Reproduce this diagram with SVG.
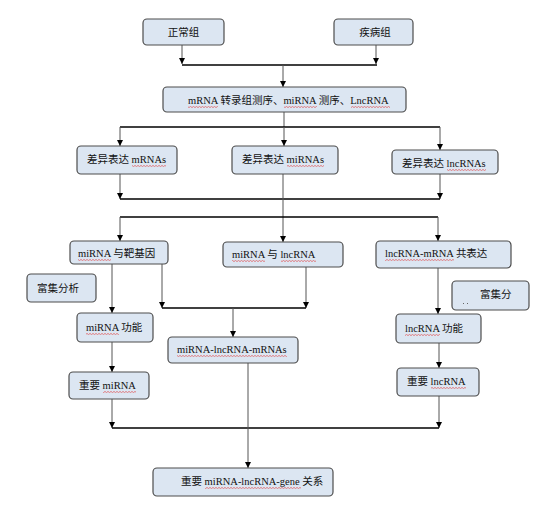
<svg xmlns="http://www.w3.org/2000/svg" width="554" height="506" viewBox="0 0 554 506">
<style>
.box{fill:#dce6f2;stroke:#4d4d4d;stroke-width:1.2}
.t{font-family:"Liberation Serif","Noto Sans CJK SC",serif;font-size:10.5px;fill:#111}
.h{fill:none;stroke:#000;stroke-width:1.5}
.v{fill:none;stroke:#555;stroke-width:1}
.va{fill:none;stroke:#555;stroke-width:1;marker-end:url(#ah)}
.w{fill:url(#wavy)}
</style>
<defs>
<marker id="ah" markerUnits="userSpaceOnUse" markerWidth="6" markerHeight="6" refX="3" refY="6" orient="0" viewBox="0 0 6 6">
<path d="M0,0 L6,0 L3,6 z" fill="#000"/>
</marker>
<pattern id="wavy" patternUnits="userSpaceOnUse" width="3" height="2">
<path d="M0,1.6 L1.5,0.4 L3,1.6" fill="none" stroke="#e03030" stroke-width="0.6"/>
</pattern>
</defs>
<rect width="554" height="506" fill="#fff"/>
<g id="connectors">
<path class="va" d="M182,45 V64"/>
<path class="va" d="M376,45 V64"/>
<path class="h" d="M182,65 H377"/>
<path class="va" d="M283,65 V87"/>
<path class="v" d="M284,112 V127"/>
<path class="h" d="M120,127 H440"/>
<path class="va" d="M120,127 V146"/>
<path class="va" d="M284,127 V146"/>
<path class="va" d="M440,127 V150"/>
<path class="va" d="M120,174 V199"/>
<path class="va" d="M440,174 V199"/>
<path class="h" d="M120,199 H440"/>
<path class="va" d="M283,174 V242"/>
<path class="h" d="M120,217 H438"/>
<path class="va" d="M120,217 V241"/>
<path class="va" d="M438,217 V241"/>
<path class="va" d="M112,264 V313"/>
<path class="va" d="M162,264 V308"/>
<path class="va" d="M306,267 V308"/>
<path class="h" d="M162,308 H306"/>
<path class="va" d="M233,308 V337"/>
<path class="va" d="M112,342 V372"/>
<path class="va" d="M438,268 V314"/>
<path class="va" d="M439,343 V368"/>
<path class="va" d="M112,399 V428"/>
<path class="va" d="M439,396 V428"/>
<path class="h" d="M112,428 H439"/>
<path class="va" d="M248,363 V468"/>
</g>
<g id="normal"><rect class="box" x="143" y="19" width="81" height="26" rx="4"/><text class="t" x="183.5" y="36" text-anchor="middle">正常组</text></g>
<g id="disease"><rect class="box" x="334" y="19" width="79" height="26" rx="4"/><text class="t" x="375" y="36" text-anchor="middle">疾病组</text></g>
<g id="seq"><rect class="box" x="163" y="87" width="243" height="25" rx="4"/><text class="t" x="188" y="104">mRNA 转录组测序、miRNA 测序、LncRNA</text>
<rect class="w" x="188" y="106" width="30" height="2"/><rect class="w" x="284" y="106" width="33" height="2"/><rect class="w" x="351" y="106" width="39" height="2"/></g>
<g id="de-mrna"><rect class="box" x="77" y="146" width="100" height="28" rx="4"/><text class="t" x="87" y="163">差异表达 mRNAs</text><rect class="w" x="132" y="165" width="34" height="2"/></g>
<g id="de-mirna"><rect class="box" x="232" y="146" width="106" height="28" rx="4"/><text class="t" x="242" y="163">差异表达 miRNAs</text><rect class="w" x="287" y="165" width="37" height="2"/></g>
<g id="de-lncrna"><rect class="box" x="392" y="150" width="106" height="24" rx="4"/><text class="t" x="402" y="167">差异表达 lncRNAs</text><rect class="w" x="447" y="169" width="39" height="2"/></g>
<g id="mirna-target"><rect class="box" x="70" y="241" width="98" height="23" rx="4"/><text class="t" x="78" y="257">miRNA 与靶基因</text><rect class="w" x="78" y="259" width="33" height="2"/></g>
<g id="enrich-left"><rect class="box" x="27" y="274" width="69" height="28" rx="4"/><text class="t" x="37" y="292">富集分析</text></g>
<g id="mirna-lncrna"><rect class="box" x="223" y="242" width="120" height="25" rx="4"/><text class="t" x="232" y="258">miRNA 与 lncRNA</text><rect class="w" x="232" y="260" width="33" height="2"/><rect class="w" x="281" y="260" width="35" height="2"/></g>
<g id="coexp"><rect class="box" x="376" y="241" width="135" height="27" rx="4"/><text class="t" x="385" y="257">lncRNA-mRNA 共表达</text><rect class="w" x="385" y="259" width="69" height="2"/></g>
<g id="enrich-right"><rect class="box" x="452" y="281" width="77" height="29" rx="4"/><text class="t" x="480" y="298">富集分</text><rect x="463" y="303" width="1" height="1" fill="#666"/><rect x="467" y="303" width="1" height="1" fill="#666"/></g>
<g id="mirna-func"><rect class="box" x="77" y="313" width="76" height="29" rx="4"/><text class="t" x="86" y="331">miRNA 功能</text><rect class="w" x="86" y="333" width="33" height="2"/></g>
<g id="network"><rect class="box" x="168" y="337" width="130" height="26" rx="4"/><text class="t" x="177" y="353">miRNA-lncRNA-mRNAs</text><rect class="w" x="177" y="355" width="110" height="2"/></g>
<g id="key-mirna"><rect class="box" x="69" y="372" width="80" height="27" rx="4"/><text class="t" x="79" y="389">重要 miRNA</text><rect class="w" x="103" y="391" width="33" height="2"/></g>
<g id="lncrna-func"><rect class="box" x="396" y="314" width="85" height="29" rx="4"/><text class="t" x="405" y="332">lncRNA 功能</text><rect class="w" x="405" y="334" width="35" height="2"/></g>
<g id="key-lncrna"><rect class="box" x="397" y="368" width="82" height="28" rx="4"/><text class="t" x="407" y="385">重要 lncRNA</text><rect class="w" x="431" y="387" width="35" height="2"/></g>
<g id="final"><rect class="box" x="153" y="468" width="180" height="28" rx="4"/><text class="t" x="181" y="485">重要 miRNA-lncRNA-gene 关系</text><rect class="w" x="205" y="487" width="96" height="2"/></g>
</svg>
